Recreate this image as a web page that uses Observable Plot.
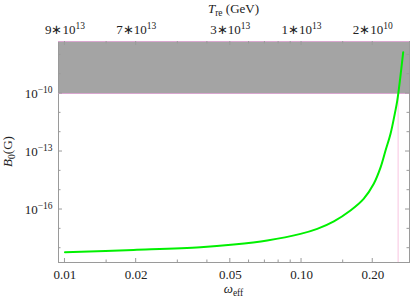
<!DOCTYPE html>
<html><head><meta charset="utf-8">
<script src="https://cdn.jsdelivr.net/npm/d3@7"></script>
<script src="https://cdn.jsdelivr.net/npm/@observablehq/plot@0.6"></script>
<style>body{margin:0;background:#fff} svg{font-family:"Liberation Serif",serif}</style>
</head><body><div id="chart"></div>
<script>
// curve data
const omega = [0.01, 0.0195, 0.0374, 0.0517, 0.0716, 0.099, 0.1165, 0.137, 0.161, 0.183, 0.202, 0.216, 0.2265, 0.2378, 0.2478, 0.254, 0.269];
const B0 = [6.17e-19, 8.13e-19, 1.12e-18, 1.55e-18, 2.51e-18, 5.5e-18, 1.0e-17, 2.45e-17, 8.9e-17, 3.55e-16, 2.14e-15, 1.55e-14, 1.12e-13, 8.3e-13, 8.9e-12, 4.4e-11, 1.38e-8];
// axes
const xTicks = [0.01, 0.02, 0.05, 0.1, 0.2];
const xTickLabels = ["0.01", "0.02", "0.05", "0.10", "0.20"];
const xMinorTicks = [0.015, 0.03, 0.04, 0.06, 0.07, 0.08, 0.09, 0.15];
const topBase = ["9∗10", "7∗10", "3∗10", "1∗10", "2∗10"];
const topExp = ["13", "13", "13", "13", "10"];
const yTicks = [1e-10, 1e-13, 1e-16];
const yTickExp = ["−10", "−13", "−16"];
const yMinorTicks = [1e-18, 1e-17, 1e-15, 1e-14, 1e-12, 1e-11, 1e-9, 1e-8];
const bandLower = 1e-10;
const cutoffOmega = 0.256;
const xDomain = [0.00939, 0.286];
const yDomain = [1.82e-19, 4.9e-8];

const curve = omega.map((w, i) => ({w, b: B0[i]}));

const plot = Plot.plot({
  width: 415, height: 305,
  marginLeft: 58, marginRight: 6, marginTop: 41, marginBottom: 43,
  style: {fontFamily: "Liberation Serif, serif", fontSize: "13px", background: "white", color: "#222"},
  x: {type: "log", domain: xDomain},
  y: {type: "log", domain: yDomain},
  marks: [
    Plot.rect([{x1: xDomain[0], x2: xDomain[1], y1: bandLower, y2: yDomain[1]}], {x1: "x1", x2: "x2", y1: "y1", y2: "y2", fill: "#a4a4a4"}),
    Plot.frame({stroke: "#9a9a9a"}),
    Plot.ruleX([cutoffOmega], {y1: yDomain[0], y2: bandLower, stroke: "#f8c4e0", strokeWidth: 1}),
    Plot.ruleY([bandLower, yDomain[1]], {stroke: "#d9a6cf", strokeWidth: 1}),
    Plot.line(curve, {x: "w", y: "b", stroke: "#00f000", strokeWidth: 2, curve: "catmull-rom"}),
    Plot.axisX(xTicks, {anchor: "bottom", tickSize: 0, tickPadding: 7, tickFormat: () => "", label: null}),
    Plot.axisX(xTicks, {anchor: "top", tickSize: 0, tickPadding: 8, tickFormat: () => "", label: null}),
    Plot.axisY(yTicks, {anchor: "left", tickSize: 0, tickPadding: 6, tickFormat: () => "", label: null})
  ]
});

const svg = d3.select(plot);
const sx = plot.scale("x"), sy = plot.scale("y");
const [X0, X1] = [sx.apply(xDomain[0]), sx.apply(xDomain[1])];
const [Y0, Y1] = [sy.apply(yDomain[0]), sy.apply(yDomain[1])];

// tick labels with superscripts
svg.selectAll('g[aria-label="y-axis tick label"] text').each(function(d, i) {
  const t = d3.select(this).text("");
  t.append("tspan").text("10");
  t.append("tspan").attr("dy", "-0.45em").attr("font-size", "9.5px").text(yTickExp[i]);
});
svg.selectAll('g[aria-label="x-axis tick label"]').each(function(d, gi) {
  d3.select(this).selectAll("text").each(function(d, i) {
    const t = d3.select(this).text("");
    if (gi === 0) {
      t.append("tspan").text(xTickLabels[i]);
    } else {
      t.append("tspan").text(topBase[i]);
      t.append("tspan").attr("dy", "-0.45em").attr("font-size", "9.5px").text(topExp[i]);
    }
  });
});

// inward ticks
const tg = svg.append("g").attr("stroke", "#9a9a9a").attr("stroke-width", 1);
for (const t of xTicks) {
  const x = sx.apply(t);
  tg.append("line").attr("x1", x).attr("x2", x).attr("y1", Y0).attr("y2", Y0 - 4);
  tg.append("line").attr("x1", x).attr("x2", x).attr("y1", Y1).attr("y2", Y1 + 4);
}
for (const t of xMinorTicks) {
  const x = sx.apply(t);
  tg.append("line").attr("x1", x).attr("x2", x).attr("y1", Y0).attr("y2", Y0 - 2.5);
  tg.append("line").attr("x1", x).attr("x2", x).attr("y1", Y1).attr("y2", Y1 + 2.5);
}
for (const t of yTicks) {
  const y = sy.apply(t);
  tg.append("line").attr("x1", X0).attr("x2", X0 + 4).attr("y1", y).attr("y2", y);
  tg.append("line").attr("x1", X1).attr("x2", X1 - 4).attr("y1", y).attr("y2", y);
}
for (const t of yMinorTicks) {
  const y = sy.apply(t);
  tg.append("line").attr("x1", X0).attr("x2", X0 + 2.5).attr("y1", y).attr("y2", y);
  tg.append("line").attr("x1", X1).attr("x2", X1 - 2.5).attr("y1", y).attr("y2", y);
}

// axis titles
const cx = (X0 + X1) / 2, cy = (Y0 + Y1) / 2;
const title = svg.append("text").attr("x", cx).attr("y", 13).attr("text-anchor", "middle").attr("font-size", "13px").attr("fill", "#222");
title.append("tspan").attr("font-style", "italic").text("T");
title.append("tspan").attr("font-size", "9.5px").attr("dy", "3").text("re");
title.append("tspan").attr("dy", "-3").text(" (GeV)");

const xl = svg.append("text").attr("x", cx).attr("y", 293).attr("text-anchor", "middle").attr("font-size", "13px").attr("fill", "#222");
xl.append("tspan").attr("font-style", "italic").text("ω");
xl.append("tspan").attr("font-size", "9.5px").attr("dy", "3").text("eff");

const yl = svg.append("text").attr("transform", `translate(12,${cy}) rotate(-90)`).attr("text-anchor", "middle").attr("font-size", "13px").attr("fill", "#222");
yl.append("tspan").attr("font-style", "italic").text("B");
yl.append("tspan").attr("font-size", "9.5px").attr("dy", "3").text("0");
yl.append("tspan").attr("dy", "-3").text("(G)");

document.getElementById("chart").appendChild(plot);
</script>
</body></html>
